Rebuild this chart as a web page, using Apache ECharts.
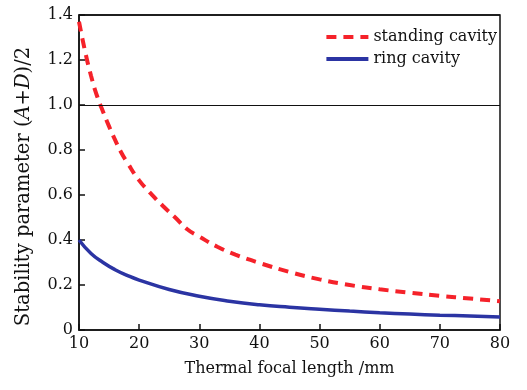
<!DOCTYPE html>
<html>
<head>
<meta charset="utf-8">
<script src="https://cdn.jsdelivr.net/npm/echarts@6/dist/echarts.min.js"></script>
<style>
  html, body { margin: 0; padding: 0; background: #fff; }
  #chart { width: 527px; height: 390px; }
</style>
</head>
<body>
<div id="chart"></div>
<script>
// Stability parameter versus thermal focal length for two resonator types
const standingCavity = [
  [10, 1.37], [11, 1.24], [12, 1.13], [13, 1.04], [14, 0.97], [15, 0.905],
  [16, 0.845], [17, 0.79], [18, 0.745], [20, 0.665], [22, 0.605], [24, 0.55],
  [26, 0.50], [28, 0.448], [30, 0.415], [33, 0.37], [36, 0.335], [40, 0.298],
  [45, 0.258], [50, 0.225], [55, 0.200], [60, 0.181], [65, 0.166], [70, 0.152],
  [75, 0.140], [80, 0.128]
];
const ringCavity = [
  [10, 0.40], [12, 0.34], [14, 0.30], [16, 0.268], [18, 0.243], [20, 0.222],
  [25, 0.18], [30, 0.150], [35, 0.128], [40, 0.112], [45, 0.101], [50, 0.092],
  [55, 0.084], [60, 0.077], [65, 0.071], [70, 0.066], [75, 0.062], [80, 0.058]
];
const stabilityLimit = 1.0;
const yMax = 1.4;

const font = 'DejaVu Serif';
const chart = echarts.init(document.getElementById('chart'));

chart.setOption({
  animation: false,
  textStyle: { fontFamily: font, color: '#111' },
  grid: {
    left: 79, right: 27, top: 15, bottom: 60,
    show: true, borderColor: '#111', borderWidth: 1.5
  },
  legend: {
    orient: 'vertical',
    right: 30,
    top: 29,
    padding: 0,
    itemWidth: 42,
    itemHeight: 12,
    itemGap: 6,
    itemStyle: { opacity: 0 },
    lineStyle: { width: 4 },
    textStyle: { fontFamily: font, fontSize: 16, color: '#111' },
    data: ['standing cavity', 'ring cavity']
  },
  xAxis: {
    type: 'value', min: 10, max: 80, interval: 10,
    name: 'Thermal focal length /mm',
    nameLocation: 'middle', nameGap: 31,
    nameTextStyle: { fontFamily: font, fontSize: 16, color: '#111' },
    axisLine: { lineStyle: { color: '#111', width: 1.5 } },
    axisTick: { inside: true, length: 6, lineStyle: { color: '#111', width: 1.5 } },
    axisLabel: { fontFamily: font, fontSize: 16, color: '#111', margin: 6 },
    splitLine: { show: false }
  },
  yAxis: {
    type: 'value', min: 0, max: yMax, interval: 0.2,
    name: 'Stability parameter ({i|A}+{i|D})/2',
    nameLocation: 'middle', nameGap: 45,
    nameTextStyle: {
      fontFamily: font, fontSize: 19.5, color: '#111',
      padding: [0, 28, 0, 0],
      rich: { i: { fontFamily: font, fontSize: 19.5, fontStyle: 'italic', color: '#111' } }
    },
    axisLine: { show: true, lineStyle: { color: '#111', width: 1.5 } },
    axisTick: { inside: true, length: 6, lineStyle: { color: '#111', width: 1.5 } },
    axisLabel: {
      fontFamily: font, fontSize: 16, color: '#111', margin: 6,
      formatter: v => (v === 0 ? '0' : v.toFixed(1))
    },
    splitLine: { show: false }
  },
  series: [{
    name: 'standing cavity',
    type: 'line',
    smooth: true,
    symbol: 'none',
    data: standingCavity,
    lineStyle: { color: '#f5222a', width: 4, type: [10, 7] },
    itemStyle: { color: '#f5222a' },
    markLine: {
      silent: true, symbol: 'none', label: { show: false },
      lineStyle: { color: '#111', width: 1.2, type: 'solid' },
      data: [
        { yAxis: stabilityLimit },
        // upper frame edge
        { yAxis: yMax, lineStyle: { width: 1.5 } }
      ]
    },
    z: 3
  }, {
    name: 'ring cavity',
    type: 'line',
    smooth: true,
    symbol: 'none',
    data: ringCavity,
    lineStyle: { color: '#2b34a3', width: 3.5 },
    itemStyle: { color: '#2b34a3' },
    z: 3
  }]
});
</script>
</body>
</html>
